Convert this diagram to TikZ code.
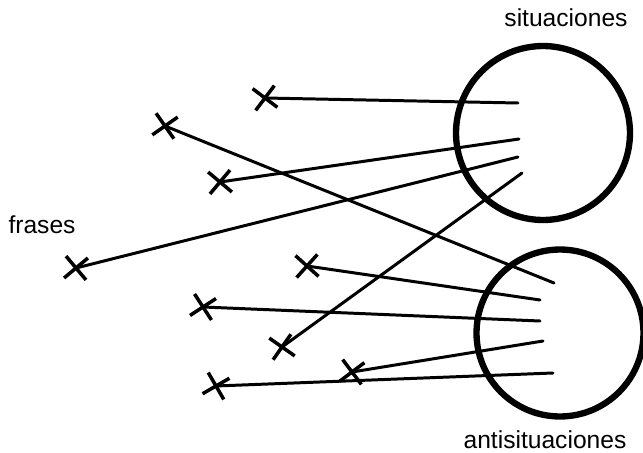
\documentclass[tikz,border=0pt]{standalone}
\usepackage{fontspec}
\setmainfont{Liberation Sans}
\usetikzlibrary{shapes.misc}

\begin{document}
\begin{tikzpicture}[x=0.02cm,y=-0.02cm,
  ring/.style={draw,circle,line width=3.6pt,inner sep=0pt},
  fr/.style={draw,cross out,line width=2pt,minimum size=10.5pt,inner sep=0pt},
  lnk/.style={line width=1.7pt,line cap=round},
  lbl/.style={font=\fontsize{14}{16}\selectfont}]
  \useasboundingbox (0,0) rectangle (643,453);

  % the two sets
  \node[ring,minimum size=3.48cm] (sit) at (543,133) {};
  \node[ring,minimum size=3.34cm] (anti) at (560,333) {};
  \node[lbl] (tsit) at (566,18) {situaciones};
  \node[lbl] (tanti) at (545,440) {antisituaciones};
  \node[lbl] (tfr) at (42,225) {frases};

  % frases
  \node[fr,rotate=8] (f1) at (265,98) {};
  \node[fr,rotate=-10] (f2) at (165,126) {};
  \node[fr,rotate=5] (f3) at (220,182) {};
  \node[fr,rotate=-5] (f4) at (76,268) {};
  \node[fr,rotate=3] (f5) at (307,266) {};
  \node[fr,rotate=-12] (f6) at (203,307) {};
  \node[fr,rotate=10] (f7) at (282,347) {};
  \node[fr,rotate=-8] (f8) at (352,372) {};
  \node[fr,rotate=-15] (f9) at (216,386) {};

  % ends inside the sets
  \coordinate (s1) at (518,103);
  \coordinate (s2) at (519,139);
  \coordinate (s3) at (518,157);
  \coordinate (s4) at (522,173);
  \coordinate (a1) at (554,283);
  \coordinate (a2) at (540,300);
  \coordinate (a3) at (540,321);
  \coordinate (a4) at (543,341);
  \coordinate (a5) at (553,373);

  \draw[lnk] (f1.center) -- (s1);
  \draw[lnk] (f2.center) -- (a1);
  \draw[lnk] (f3.center) -- (s2);
  \draw[lnk] (f4.center) -- (s3);
  \draw[lnk] (f5.center) -- (a2);
  \draw[lnk] (f6.center) -- (a3);
  \draw[lnk] (f7.center) -- (s4);
  \draw[lnk] (f8.center) -- (a4);
  \draw[lnk] (f9.center) -- (a5);
\end{tikzpicture}
\end{document}
